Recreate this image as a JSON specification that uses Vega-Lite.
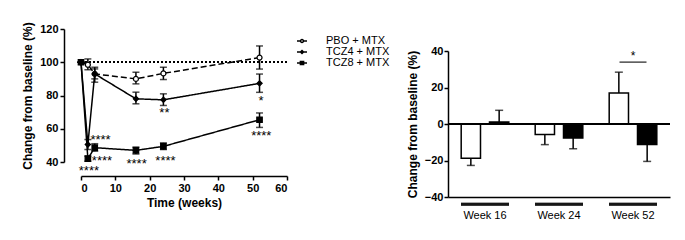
{
  "$schema": "https://vega.github.io/schema/vega-lite/v6.json",
  "padding": {"left": 21, "top": 21, "right": 5, "bottom": 5},
  "spacing": 10,
  "config": {
    "font": "Liberation Sans",
    "view": {"stroke": null},
    "axis": {
      "grid": false,
      "domainColor": "black",
      "domainWidth": 1.5,
      "tickColor": "black",
      "tickWidth": 1.5,
      "tickSize": 4,
      "labelColor": "black",
      "labelFont": "Liberation Sans",
      "labelFontWeight": "bold",
      "labelFontSize": 11,
      "labelPadding": 2,
      "labelOverlap": false,
      "titleColor": "black",
      "titleFont": "Liberation Sans",
      "titleFontWeight": "bold",
      "titleFontSize": 12
    }
  },
  "datasets": {
    "time": [
      {"group": "PBO + MTX", "week": 0, "mean": 100, "lo": 100, "hi": 100},
      {"group": "PBO + MTX", "week": 2, "mean": 98.5, "lo": 95.5, "hi": 102},
      {"group": "PBO + MTX", "week": 4, "mean": 93, "lo": 90, "hi": 96},
      {"group": "PBO + MTX", "week": 16, "mean": 90, "lo": 87, "hi": 94},
      {"group": "PBO + MTX", "week": 24, "mean": 93.3, "lo": 89.6, "hi": 97},
      {"group": "PBO + MTX", "week": 52, "mean": 102.8, "lo": 95.9, "hi": 109.8},
      {"group": "TCZ4 + MTX", "week": 0, "mean": 100, "lo": 100, "hi": 100},
      {"group": "TCZ4 + MTX", "week": 2, "mean": 50.5, "lo": 47.5, "hi": 53.5},
      {"group": "TCZ4 + MTX", "week": 4, "mean": 93, "lo": 88, "hi": 97},
      {"group": "TCZ4 + MTX", "week": 16, "mean": 78, "lo": 75, "hi": 82},
      {"group": "TCZ4 + MTX", "week": 24, "mean": 77.4, "lo": 74, "hi": 81},
      {"group": "TCZ4 + MTX", "week": 52, "mean": 87.3, "lo": 81.9, "hi": 92.9},
      {"group": "TCZ8 + MTX", "week": 0, "mean": 100, "lo": 100, "hi": 100},
      {"group": "TCZ8 + MTX", "week": 2, "mean": 42, "lo": 40.5, "hi": 43.5},
      {"group": "TCZ8 + MTX", "week": 4, "mean": 48.6, "lo": 46.5, "hi": 51},
      {"group": "TCZ8 + MTX", "week": 16, "mean": 47, "lo": 44.8, "hi": 49},
      {"group": "TCZ8 + MTX", "week": 24, "mean": 49.4, "lo": 47.5, "hi": 51.5},
      {"group": "TCZ8 + MTX", "week": 52, "mean": 65.4, "lo": 60.8, "hi": 69.5}
    ],
    "stars": [
      {"week": 5.7, "value": 53, "label": "****"},
      {"week": 6.1, "value": 40.7, "label": "****"},
      {"week": 2.3, "value": 34.4, "label": "****"},
      {"week": 16.2, "value": 38.6, "label": "****"},
      {"week": 24.6, "value": 40.7, "label": "****"},
      {"week": 24.3, "value": 69.4, "label": "**"},
      {"week": 52.4, "value": 76.6, "label": "*"},
      {"week": 52.5, "value": 55.4, "label": "****"}
    ],
    "bars": [
      {"week": "Week 16", "group": "PBO + MTX", "value": -18.7, "end": -22.7},
      {"week": "Week 16", "group": "TCZ + MTX", "value": 1.1, "end": 7.5},
      {"week": "Week 24", "group": "PBO + MTX", "value": -5.8, "end": -11.3},
      {"week": "Week 24", "group": "TCZ + MTX", "value": -7.7, "end": -13.5},
      {"week": "Week 52", "group": "PBO + MTX", "value": 17, "end": 28.4},
      {"week": "Week 52", "group": "TCZ + MTX", "value": -11.3, "end": -20.5}
    ],
    "sig": [{"week": "Week 52", "value": 33.9, "star": 37, "label": "*"}]
  },
  "hconcat": [
    {
      "width": 206,
      "height": 133,
      "data": {"name": "time"},
      "layer": [
        {
          "mark": {"type": "rule", "strokeDash": [2, 2], "strokeWidth": 1.5, "color": "black"},
          "encoding": {"y": {"datum": 100, "type": "quantitative", "scale": {"domain": [40, 120], "nice": false, "zero": false},
                  "axis": {"values": [40, 60, 80, 100, 120], "offset": 17, "titlePadding": 5}, "title": "Change from baseline (%)"}}
        },
        {
          "mark": {"type": "line", "color": "black", "strokeWidth": 1.5},
          "encoding": {
            "x": {"field": "week", "type": "quantitative", "scale": {"domain": [0, 60], "nice": false, "zero": false},
                  "axis": {"values": [0, 10, 20, 30, 40, 50, 60], "offset": 14, "titlePadding": 4}, "title": "Time (weeks)"},
            "y": {"field": "mean", "type": "quantitative", "scale": {"domain": [40, 120], "nice": false, "zero": false},
                  "axis": {"values": [40, 60, 80, 100, 120], "offset": 17, "titlePadding": 5}, "title": "Change from baseline (%)"},
            "detail": {"field": "group"},
            "strokeDash": {"field": "group", "type": "nominal",
                           "scale": {"domain": ["PBO + MTX", "TCZ4 + MTX", "TCZ8 + MTX"], "range": [[6, 3], [1, 0], [1, 0]]},
                           "legend": null}
          }
        },
        {
          "mark": {"type": "errorbar", "color": "black", "ticks": {"size": 7, "thickness": 1.5}, "rule": {"strokeWidth": 1.5}},
          "encoding": {
            "x": {"field": "week", "type": "quantitative", "scale": {"domain": [0, 60], "nice": false, "zero": false},
                  "axis": {"values": [0, 10, 20, 30, 40, 50, 60], "offset": 14, "titlePadding": 4}, "title": "Time (weeks)"},
            "y": {"field": "lo", "type": "quantitative", "scale": {"domain": [40, 120], "nice": false, "zero": false},
                  "axis": {"values": [40, 60, 80, 100, 120], "offset": 17, "titlePadding": 5}, "title": "Change from baseline (%)"},
            "y2": {"field": "hi"},
            "detail": {"field": "group"}
          }
        },
        {
          "mark": {"type": "point", "stroke": "black", "strokeWidth": 1.2, "opacity": 1},
          "encoding": {
            "x": {"field": "week", "type": "quantitative", "scale": {"domain": [0, 60], "nice": false, "zero": false},
                  "axis": {"values": [0, 10, 20, 30, 40, 50, 60], "offset": 14, "titlePadding": 4}, "title": "Time (weeks)"},
            "y": {"field": "mean", "type": "quantitative", "scale": {"domain": [40, 120], "nice": false, "zero": false},
                  "axis": {"values": [40, 60, 80, 100, 120], "offset": 17, "titlePadding": 5}, "title": "Change from baseline (%)"},
            "shape": {"field": "group", "type": "nominal",
                      "scale": {"domain": ["PBO + MTX", "TCZ4 + MTX", "TCZ8 + MTX"], "range": ["circle", "diamond", "square"]}, "legend": null},
            "fill": {"field": "group", "type": "nominal",
                     "scale": {"domain": ["PBO + MTX", "TCZ4 + MTX", "TCZ8 + MTX"], "range": ["white", "black", "black"]}, "legend": null},
            "size": {"field": "group", "type": "nominal",
                     "scale": {"domain": ["PBO + MTX", "TCZ4 + MTX", "TCZ8 + MTX"], "range": [25, 30, 45]}, "legend": null}
          }
        },
        {
          "data": {"name": "stars"},
          "mark": {"type": "text", "fontSize": 13, "color": "black", "baseline": "middle", "font": "Liberation Sans"},
          "encoding": {
            "x": {"field": "week", "type": "quantitative", "scale": {"domain": [0, 60], "nice": false, "zero": false},
                  "axis": {"values": [0, 10, 20, 30, 40, 50, 60], "offset": 14, "titlePadding": 4}, "title": "Time (weeks)"},
            "y": {"field": "value", "type": "quantitative", "scale": {"domain": [40, 120], "nice": false, "zero": false},
                  "axis": {"values": [40, 60, 80, 100, 120], "offset": 17, "titlePadding": 5}, "title": "Change from baseline (%)"},
            "text": {"field": "label"}
          }
        },
        {
          "transform": [{"filter": "false"}],
          "mark": {"type": "point", "stroke": "black", "strokeWidth": 1.5, "opacity": 1},
          "encoding": {
            "x": {"field": "week", "type": "quantitative", "scale": {"domain": [0, 60], "nice": false, "zero": false},
                  "axis": {"values": [0, 10, 20, 30, 40, 50, 60], "offset": 14, "titlePadding": 4}, "title": "Time (weeks)"},
            "y": {"field": "mean", "type": "quantitative", "scale": {"domain": [40, 120], "nice": false, "zero": false},
                  "axis": {"values": [40, 60, 80, 100, 120], "offset": 17, "titlePadding": 5}, "title": "Change from baseline (%)"},
            "shape": {"field": "group", "type": "nominal",
                      "scale": {"domain": ["PBO + MTX", "TCZ4 + MTX", "TCZ8 + MTX"],
                                "range": ["M-1,0H-0.3M0.3,0H1M0.3,0A0.3,0.3,0,1,1,-0.3,0A0.3,0.3,0,1,1,0.3,0Z",
                                          "M-1,0H1M0,-0.3L0.3,0L0,0.3L-0.3,0Z",
                                          "M-1,0H1M-0.32,-0.32H0.32V0.32H-0.32Z"]},
                      "legend": {"title": null, "orient": "right", "offset": 3, "padding": 6, "symbolSize": 100,
                                 "labelOffset": 18, "labelFontSize": 11, "labelFont": "Liberation Sans", "labelColor": "black",
                                 "rowPadding": 0,
                                 "encode": {"symbols": {"update": {"stroke": {"value": "black"}, "strokeWidth": {"value": 1.5}, "opacity": {"value": 1}}}}}},
            "fill": {"field": "group", "type": "nominal",
                     "scale": {"domain": ["PBO + MTX", "TCZ4 + MTX", "TCZ8 + MTX"], "range": ["white", "black", "black"]},
                     "legend": {"title": null, "orient": "right", "offset": 3, "padding": 6, "symbolSize": 100,
                                "labelOffset": 18, "labelFontSize": 11, "labelFont": "Liberation Sans", "labelColor": "black",
                                "rowPadding": 0,
                                "encode": {"symbols": {"update": {"stroke": {"value": "black"}, "strokeWidth": {"value": 1.5}, "opacity": {"value": 1}}}}}}
          }
        }
      ],
      "resolve": {"scale": {"shape": "independent", "fill": "independent"}}
    },
    {
      "width": 222,
      "height": 168,
      "data": {"name": "bars"},
      "layer": [
        {
          "mark": {"type": "bar", "stroke": "black", "strokeWidth": 1.5},
          "encoding": {
            "x": {"field": "week", "type": "nominal", "scale": {"paddingInner": 0, "paddingOuter": 0},
                  "axis": {"title": null, "labelAngle": 0, "ticks": false, "labelFontWeight": "normal", "labelFontSize": 11, "labelPadding": 12}},
            "xOffset": {"field": "group", "type": "nominal", "scale": {"paddingInner": 0.318, "paddingOuter": 0.466}},
            "y": {"field": "value", "type": "quantitative", "scale": {"domain": [-40, 40], "nice": false, "range": [168, 22]},
                  "axis": {"values": [-40, -20, 0, 20, 40], "labelPadding": 1, "titlePadding": 5}, "title": "Change from baseline (%)"},
            "fill": {"field": "group", "type": "nominal", "scale": {"range": ["white", "black"]}, "legend": null}
          }
        },
        {
          "mark": {"type": "rule", "color": "black", "strokeWidth": 1.5},
          "encoding": {
            "x": {"field": "week", "type": "nominal"},
            "xOffset": {"field": "group", "type": "nominal"},
            "y": {"field": "value", "type": "quantitative"},
            "y2": {"field": "end"}
          }
        },
        {
          "mark": {"type": "tick", "color": "black", "thickness": 1.5, "size": 8},
          "encoding": {
            "x": {"field": "week", "type": "nominal"},
            "xOffset": {"field": "group", "type": "nominal"},
            "y": {"field": "end", "type": "quantitative"}
          }
        },
        {
          "mark": {"type": "rule", "color": "black", "strokeWidth": 1.5},
          "encoding": {"y": {"datum": 0, "type": "quantitative"}}
        },
        {
          "mark": {"type": "tick", "color": "black", "thickness": 3, "size": 48},
          "encoding": {
            "x": {"field": "week", "type": "nominal"},
            "y": {"datum": -44, "type": "quantitative"}
          }
        },
        {
          "data": {"name": "sig"},
          "mark": {"type": "tick", "color": "black", "thickness": 1.5, "size": 27},
          "encoding": {
            "x": {"field": "week", "type": "nominal"},
            "y": {"field": "value", "type": "quantitative"}
          }
        },
        {
          "data": {"name": "sig"},
          "mark": {"type": "text", "color": "black", "fontSize": 12, "baseline": "middle", "font": "Liberation Sans"},
          "encoding": {
            "x": {"field": "week", "type": "nominal"},
            "y": {"field": "star", "type": "quantitative"},
            "text": {"field": "label"}
          }
        }
      ]
    }
  ]
}
